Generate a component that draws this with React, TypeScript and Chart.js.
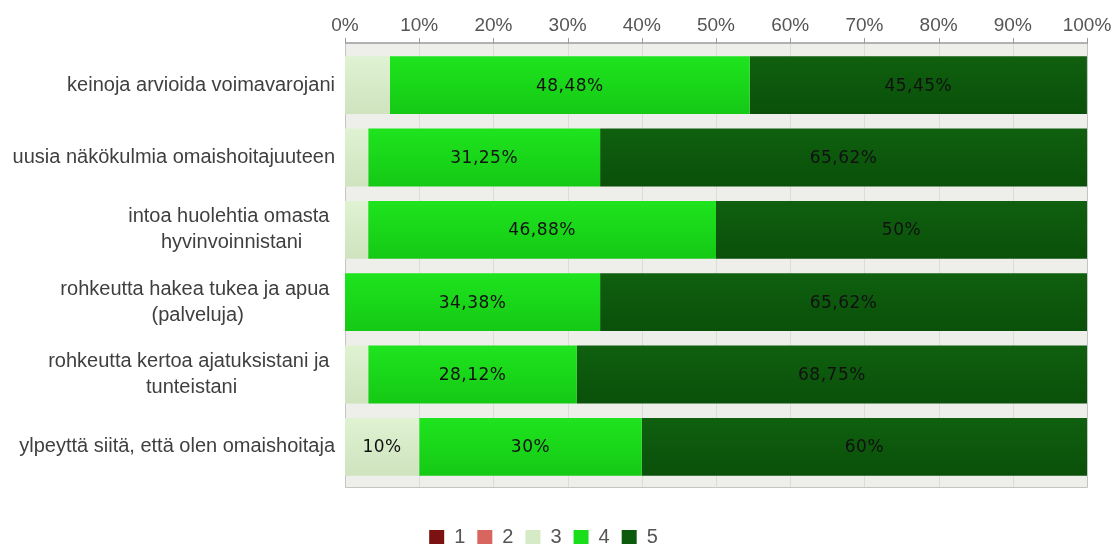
import React, { useEffect, useRef } from "react";
import { Chart, registerables } from "chart.js";

Chart.register(...registerables);

const categories: string[][] = [
  ["keinoja arvioida voimavarojani"],
  ["uusia näkökulmia omaishoitajuuteen"],
  ["intoa huolehtia omasta ", "hyvinvoinnistani"],
  ["rohkeutta hakea tukea ja apua ", "(palveluja)"],
  ["rohkeutta kertoa ajatuksistani ja ", "tunteistani"],
  ["ylpeyttä siitä, että olen omaishoitaja"],
];
const seriesNames = ["1", "2", "3", "4", "5"];
const values1 = [0, 0, 0, 0, 0, 0];
const values2 = [0, 0, 0, 0, 0, 0];
const values3 = [6.06, 3.13, 3.12, 0, 3.13, 10];
const values4 = [48.48, 31.25, 46.88, 34.38, 28.12, 30];
const values5 = [45.45, 65.62, 50, 65.62, 68.75, 60];
const xTickValues = [0, 10, 20, 30, 40, 50, 60, 70, 80, 90, 100];

const seriesColors: [string, string][] = [
  ["#7e1414", "#6f0f0f"],
  ["#db6a63", "#d25e58"],
  ["#dff2d2", "#cfe3bf"],
  ["#1ee41e", "#15c915"],
  ["#0f600f", "#0a500a"],
];
const legendColors = ["#7b1111", "#d9655f", "#d5ebc6", "#1ade1a", "#0c5a0c"];

function gradient(idx: number) {
  const [top, bottom] = seriesColors[idx];
  return (ctx: any) => {
    const chart = ctx.chart;
    const yScale = chart.scales && chart.scales.y;
    if (ctx.dataIndex === undefined || !yScale || !chart.chartArea) return legendColors[idx];
    const yc = yScale.getPixelForValue(ctx.dataIndex);
    const half = 29;
    const g = chart.ctx.createLinearGradient(0, yc - half, 0, yc + half);
    g.addColorStop(0, top);
    g.addColorStop(1, bottom);
    return g;
  };
}

function fmt(v: number) {
  return String(v).replace(".", ",") + "%";
}

const framePlugin = {
  id: "frame",
  beforeDatasetsDraw(chart: any) {
    const { ctx, chartArea, scales } = chart;
    const x = scales.x;
    const left = chartArea.left;
    const right = chartArea.right;
    const top = chartArea.top - 6;
    const bottom = chartArea.bottom + 4;
    ctx.save();
    ctx.fillStyle = "#eeefea";
    ctx.fillRect(left, top, right - left, bottom - top);
    ctx.strokeStyle = "#dcddd7";
    ctx.lineWidth = 1;
    xTickValues.forEach((v) => {
      const px = Math.round(x.getPixelForValue(v)) + 0.5;
      ctx.beginPath();
      ctx.moveTo(px, top);
      ctx.lineTo(px, bottom);
      ctx.stroke();
    });
    ctx.strokeStyle = "#c4c4c4";
    ctx.beginPath();
    ctx.moveTo(left + 0.5, top);
    ctx.lineTo(left + 0.5, bottom + 0.5);
    ctx.lineTo(right + 0.5, bottom + 0.5);
    ctx.lineTo(right + 0.5, top);
    ctx.stroke();
    ctx.strokeStyle = "#9a9a9a";
    ctx.lineWidth = 1.5;
    ctx.beginPath();
    ctx.moveTo(left, top);
    ctx.lineTo(right + 1, top);
    ctx.stroke();
    ctx.lineWidth = 1;
    xTickValues.forEach((v) => {
      const px = Math.round(x.getPixelForValue(v)) + 0.5;
      ctx.beginPath();
      ctx.moveTo(px, top - 5);
      ctx.lineTo(px, top);
      ctx.stroke();
    });
    ctx.restore();
  },
  afterDatasetsDraw(chart: any) {
    const { ctx, chartArea, scales } = chart;
    const y = scales.y;
    ctx.save();
    ctx.font = '20px "Liberation Sans", Arial, sans-serif';
    ctx.fillStyle = "#3f3f3f";
    ctx.textAlign = "center";
    ctx.textBaseline = "middle";
    const rightEdge = chartArea.left - 10;
    const lineH = 26;
    categories.forEach((lines, i) => {
      const yc = y.getPixelForValue(i);
      const maxW = Math.max(...lines.map((l) => ctx.measureText(l).width));
      const cx = rightEdge - maxW / 2;
      const startY = yc - ((lines.length - 1) * lineH) / 2;
      lines.forEach((l, k) => ctx.fillText(l, cx, startY + k * lineH));
    });
    ctx.font = '17px "DejaVu Sans", sans-serif';
    (ctx as any).letterSpacing = "0.5px";
    ctx.fillStyle = "#111111";
    chart.data.datasets.forEach((ds: any, di: number) => {
      const meta = chart.getDatasetMeta(di);
      meta.data.forEach((el: any, i: number) => {
        const v = ds.data[i];
        if (v < 10) return;
        const p = el.getCenterPoint();
        ctx.fillText(fmt(v), p.x, p.y + 1);
      });
    });
    ctx.restore();
  },
};

const legendShiftPlugin = {
  id: "legendShift",
  afterLayout(chart: any) {
    const lg = chart.legend;
    if (lg) {
      lg.top += 32;
      lg.bottom += 32;
    }
  },
};

export default function App() {
  const ref = useRef<HTMLCanvasElement>(null);
  useEffect(() => {
    if (!ref.current) return;
    const allValues = [values1, values2, values3, values4, values5];
    const chart = new Chart(ref.current, {
      type: "bar",
      data: {
        labels: categories.map((c) => c.join(" ")),
        datasets: seriesNames.map((name, idx) => ({
          label: name,
          data: allValues[idx],
          backgroundColor: gradient(idx) as any,
          borderWidth: 0,
          categoryPercentage: 1,
          barPercentage: 0.8,
        })),
      },
      options: {
        indexAxis: "y",
        responsive: false,
        animation: false,
        layout: { padding: { left: 0, right: 25, top: 0, bottom: 20 } },
        scales: {
          x: {
            type: "linear",
            position: "top",
            stacked: true,
            min: 0,
            max: 100,
            grid: { display: false, drawTicks: false, tickLength: 0 },
            border: { display: false },
            ticks: {
              stepSize: 10,
              padding: 12,
              color: "#555555",
              font: { family: '"Liberation Sans", Arial, sans-serif', size: 19 },
              callback: (v: any) => v + "%",
            },
            afterFit: (s: any) => {
              s.height = 49;
              s.paddingLeft = 0;
              s.paddingRight = 0;
            },
          },
          y: {
            type: "category",
            stacked: true,
            offset: true,
            grid: { display: false, drawTicks: false },
            border: { display: false },
            ticks: { display: false },
            afterFit: (s: any) => {
              s.width = 345;
            },
          },
        },
        plugins: {
          tooltip: { enabled: false },
          legend: {
            position: "bottom",
            labels: {
              boxWidth: 15,
              boxHeight: 14,
              padding: 12,
              color: "#555555",
              font: { family: '"Liberation Sans", Arial, sans-serif', size: 20 },
              generateLabels: (ch: any) =>
                ch.data.datasets.map((ds: any, i: number) => ({
                  text: ds.label,
                  fillStyle: legendColors[i],
                  strokeStyle: legendColors[i],
                  lineWidth: 0,
                  hidden: false,
                  datasetIndex: i,
                  fontColor: "#555555",
                })),
            },
          },
        },
      },
      plugins: [framePlugin, legendShiftPlugin],
    });
    return () => chart.destroy();
  }, []);
  return (
    <div style={{ position: "absolute", left: 0, top: 0, width: 1112, height: 545, background: "#ffffff" }}>
      <canvas ref={ref} width={1112} height={545} style={{ display: "block" }} />
    </div>
  );
}
